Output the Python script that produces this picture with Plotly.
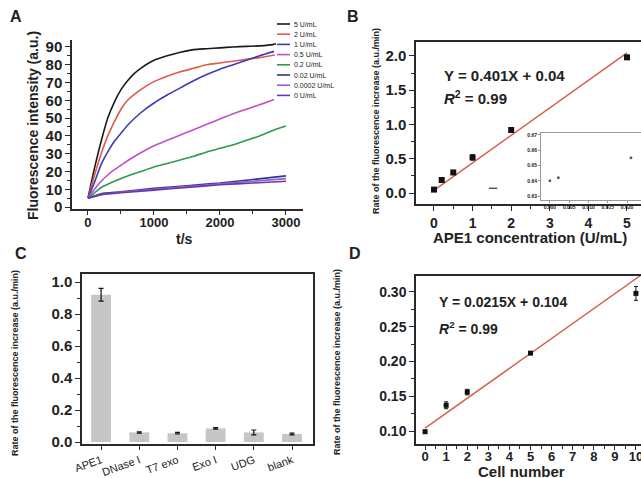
import plotly.graph_objects as go

W, H = 641, 478
FONT = "Liberation Sans"
AX = "#2a2a2a"

# ---------------- Panel A data ----------------
series_names = ["5 U/mL", "2 U/mL", "1 U/mL", "0.5 U/mL", "0.2 U/mL",
                "0.02 U/mL", "0.0002 U/mL", "0 U/mL"]
series_colors = ["#1a1a1a", "#e05a4a", "#3b3bb8", "#c24fc8", "#2f9a4c",
                 "#2a3a8c", "#9b5ad8", "#6a38a8"]

t_5 = [0, 100, 200, 300, 400, 500, 600, 700, 800, 1000, 1200, 1400, 1600, 1800, 2000, 2200, 2400, 2600, 2800, 2850]
v_5 = [5, 22, 37, 50, 59, 66, 71, 75, 78, 82.5, 85, 87, 88.5, 89, 89.5, 90, 90.3, 90.6, 91.3, 91.8]
t_2 = [0, 100, 200, 300, 400, 500, 600, 800, 1000, 1200, 1400, 1600, 1800, 2000, 2200, 2400, 2600, 2830]
v_2 = [5, 18, 30, 40, 48, 55, 60, 66, 70.5, 73.5, 76, 78, 80, 81, 82, 83, 84, 85.5]
t_1 = [0, 100, 200, 300, 400, 500, 600, 800, 1000, 1200, 1400, 1600, 1800, 2000, 2200, 2400, 2600, 2820]
v_1 = [5, 14, 24, 31, 37, 41.5, 46, 53, 58.5, 63, 67, 71, 74.5, 77.5, 80, 82.5, 85, 87.5]
t_05 = [0, 100, 200, 300, 400, 500, 600, 800, 1000, 1200, 1400, 1600, 1800, 2000, 2200, 2400, 2600, 2820]
v_05 = [5, 10, 14.5, 18, 21, 23.5, 26, 30.5, 34.5, 37.5, 40.5, 43.5, 46.5, 49.5, 52.5, 55, 57.5, 60.5]
t_02 = [0, 100, 200, 400, 600, 800, 1000, 1200, 1400, 1600, 1800, 2000, 2200, 2400, 2600, 2800, 3000]
v_02 = [5, 8, 11, 14.5, 17.5, 20, 22.5, 24.5, 26.5, 28.5, 31, 33, 35, 37.5, 40, 43, 45.5]
t_low = [0, 200, 500, 1000, 1500, 2000, 2500, 3000]
v_002 = [5, 7.5, 8.5, 10.5, 12, 13.5, 15.5, 17.5]
v_00002 = [5, 7, 8.3, 10, 11.5, 13, 14.5, 16]
v_0 = [5, 7, 8, 9.5, 11, 12.5, 13.5, 14.5]

curves_t = [t_5, t_2, t_1, t_05, t_02, t_low, t_low, t_low]
curves_v = [v_5, v_2, v_1, v_05, v_02, v_002, v_00002, v_0]

# ---------------- Panel B data ----------------
b_conc = [0, 0.2, 0.5, 1, 2, 5]
b_rate = [0.05, 0.19, 0.30, 0.52, 0.92, 1.98]
b_err = [0.02, 0.03, 0.03, 0.04, 0.03, 0.03]
b_slope, b_icpt = 0.401, 0.04
b_fit_x = [0, 5]
inset_x = [0, 0.0022, 0.021]
inset_y = [0.640, 0.642, 0.655]
inset_xticks = [0, 0.005, 0.010, 0.015, 0.020]
inset_yticks = [0.63, 0.64, 0.65, 0.66, 0.67]

# ---------------- Panel C data ----------------
c_cats = ["APE1", "DNase I", "T7 exo", "Exo I", "UDG", "blank"]
c_vals = [0.92, 0.06, 0.055, 0.085, 0.06, 0.05]
c_err = [0.04, 0.004, 0.005, 0.005, 0.015, 0.005]

# ---------------- Panel D data ----------------
d_cells = [0, 1, 2, 5, 10]
d_rate = [0.099, 0.137, 0.156, 0.212, 0.298]
d_err = [0.002, 0.005, 0.004, 0.002, 0.01]
d_slope, d_icpt = 0.0215, 0.104
d_fit_x = [0, 10.3]


def px(x):
    return x / W


def py(y):
    return 1 - y / H


fig = go.Figure()

# Panel A curves
for name, col, tt, vv in zip(series_names, series_colors, curves_t, curves_v):
    fig.add_trace(go.Scatter(x=tt, y=vv, mode="lines", name=name,
                             line=dict(color=col, width=1.6, shape="spline", smoothing=0.6),
                             xaxis="x", yaxis="y", showlegend=False))

# Panel B
fig.add_trace(go.Scatter(x=b_fit_x, y=[b_slope * x + b_icpt for x in b_fit_x], mode="lines",
                         line=dict(color="#d4604f", width=1.5), xaxis="x2", yaxis="y2", showlegend=False))
fig.add_trace(go.Scatter(x=b_conc, y=b_rate, mode="markers",
                         marker=dict(symbol="square", size=6, color="#111"),
                         error_y=dict(type="data", array=b_err, color="#111", thickness=1, width=2),
                         xaxis="x2", yaxis="y2", showlegend=False))
fig.add_trace(go.Scatter(x=[1.53], y=[0.07], mode="markers",
                         marker=dict(symbol="line-ew", size=6, line=dict(color="#333", width=1.2)),
                         xaxis="x2", yaxis="y2", showlegend=False))
fig.add_trace(go.Scatter(x=inset_x, y=inset_y, mode="markers",
                         marker=dict(symbol="square", size=2.5, color="#555"),
                         xaxis="x5", yaxis="y5", showlegend=False))

# Panel C
fig.add_trace(go.Bar(x=c_cats, y=c_vals, marker=dict(color="#c6c6c6", line=dict(width=0)),
                     width=0.52,
                     error_y=dict(type="data", array=c_err, color="#111", thickness=1.2, width=2.5),
                     xaxis="x3", yaxis="y3", showlegend=False))

# Panel D
fig.add_trace(go.Scatter(x=d_fit_x, y=[d_slope * x + d_icpt for x in d_fit_x], mode="lines",
                         line=dict(color="#d4604f", width=1.5), xaxis="x4", yaxis="y4", showlegend=False))
fig.add_trace(go.Scatter(x=d_cells, y=d_rate, mode="markers",
                         marker=dict(symbol="square", size=5, color="#111"),
                         error_y=dict(type="data", array=d_err, color="#111", thickness=1, width=2),
                         xaxis="x4", yaxis="y4", showlegend=False))


def axis(domain, rng, anchor, tickvals=None, ticktext=None, size=14, minor=None,
         mirror=False, lw=1.5, color=AX, tlen=5, bold=True, **kw):
    d = dict(domain=domain, range=rng, anchor=anchor, showgrid=False, zeroline=False,
             automargin=False, ticklabeloverflow="allow",
             showline=True, linecolor=color, linewidth=lw, mirror=mirror,
             ticks="outside", ticklen=tlen, tickwidth=1.2, tickcolor=color,
             tickfont=dict(family=FONT, size=size, color="#222",
                           weight="bold" if bold else "normal"))
    if tickvals is not None:
        d["tickmode"] = "array"
        d["tickvals"] = tickvals
        if ticktext is not None:
            d["ticktext"] = ticktext
    if minor is not None:
        d["minor"] = dict(dtick=minor, ticks="outside", ticklen=3, tickwidth=1, tickcolor=color)
    d.update(kw)
    return d


layout = dict(
    width=W, height=H, margin=dict(l=0, r=0, t=0, b=0, autoexpand=False),
    paper_bgcolor="white", plot_bgcolor="white",
    font=dict(family=FONT, color="#222"),
    xaxis=axis([px(72), px(303)], [-242, 3258], "y", tickvals=[0, 1000, 2000, 3000], size=13,
               minor=500, tick0=0, tlen=4, ticklabelstandoff=-3),
    yaxis=axis([py(209), py(40)], [-1.1, 93.9], "x", tickvals=list(range(0, 100, 10)), size=15,
               minor=5),
    xaxis2=axis([px(416), 1.0], [-0.466, 5.363], "y2", tickvals=[0, 1, 2, 3, 4, 5], size=14,
                minor=0.5, mirror=True),
    yaxis2=axis([py(204), py(42)], [-0.16, 2.204], "x2", tickvals=[0, 0.5, 1.0, 1.5, 2.0],
                ticktext=["0.0", "0.5", "1.0", "1.5", "2.0"], size=15, minor=0.25, mirror=True),
    xaxis3=axis([px(82), px(313)], [-0.5, 5.55], "y3", size=11, bold=False, tickangle=-20,
                type="category", mirror=True, tlen=4),
    yaxis3=axis([py(444), py(274)], [-0.0125, 1.05], "x3", tickvals=[0, 0.2, 0.4, 0.6, 0.8, 1.0],
                ticktext=["0.0", "0.2", "0.4", "0.6", "0.8", "1.0"], size=15, minor=0.1, mirror=True),
    xaxis4=axis([px(416), 1.0], [-0.43, 10.24], "y4", tickvals=list(range(0, 11)), size=13,
                minor=0.5, mirror=True, tlen=4, ticklabelstandoff=-4),
    yaxis4=axis([py(444), py(276)], [0.0813, 0.323], "x4", tickvals=[0.10, 0.15, 0.20, 0.25, 0.30],
                ticktext=["0.10", "0.15", "0.20", "0.25", "0.30"], size=14, minor=0.025, mirror=True),
    xaxis5=axis([px(541), 1.0], [-0.0023, 0.0236], "y5", tickvals=inset_xticks,
                ticktext=["0.000", "0.005", "0.010", "0.015", "0.020"], size=5, lw=0.8,
                color="#999", tlen=2, mirror=True),
    yaxis5=axis([py(200), py(133)], [0.6274, 0.6713], "x5", tickvals=inset_yticks,
                ticktext=["0.63", "0.64", "0.65", "0.66", "0.67"], size=5, lw=0.8,
                color="#999", tlen=2, mirror=True),
)
fig.update_layout(**layout)

ann = []


def text(x, y, s, size, bold=True, angle=0, xanchor="center", yanchor="middle", italic=False, color="#222"):
    ann.append(dict(x=px(x), y=py(y), xref="paper", yref="paper", text=s, showarrow=False,
                    textangle=angle, xanchor=xanchor, yanchor=yanchor,
                    font=dict(family=FONT, size=size, color=color,
                              weight="bold" if bold else "normal",
                              style="italic" if italic else "normal")))


# panel letters
text(16, 17, "A", 16)
text(353, 17, "B", 16)
text(21, 253, "C", 16)
text(355, 253, "D", 16)

# axis titles
text(33, 126, "Fluorescence intensity (a.u.)", 14, angle=-90)
text(185, 239, "t/s", 14)
text(376, 121, "Rate of the fluorescence increase (a.u./min)", 9, angle=-90)
text(530, 237, "APE1 concentration (U/mL)", 15)
text(15, 363, "Rate of the fluorescence increase (a.u./min)", 9, angle=-90)
text(337, 362, "Rate of the fluorescence increase (a.u./min)", 9, angle=-90)
text(521, 471, "Cell number", 15)

# equations
text(442, 76, "Y = 0.401X + 0.04", 15, xanchor="left")
text(442, 97, "<i>R</i><sup>2</sup> = 0.99", 15, xanchor="left")
text(437, 302, "Y = 0.0215X + 0.104", 14, xanchor="left")
text(437, 328, "<i>R</i><sup>2</sup> = 0.99", 14, xanchor="left")

# legend for panel A
shapes = []
for i, (name, col) in enumerate(zip(series_names, series_colors)):
    yy = 24 + 10.2 * i
    shapes.append(dict(type="line", xref="paper", yref="paper", x0=px(277), x1=px(290),
                       y0=py(yy), y1=py(yy), line=dict(color=col, width=1.6)))
    text(292, yy, name, 7, bold=False, xanchor="left")

fig.update_layout(annotations=ann, shapes=shapes)
fig.write_html("out.html", config={"displayModeBar": False},
               post_script="document.body.style.margin='0px';document.body.style.padding='0px';")
